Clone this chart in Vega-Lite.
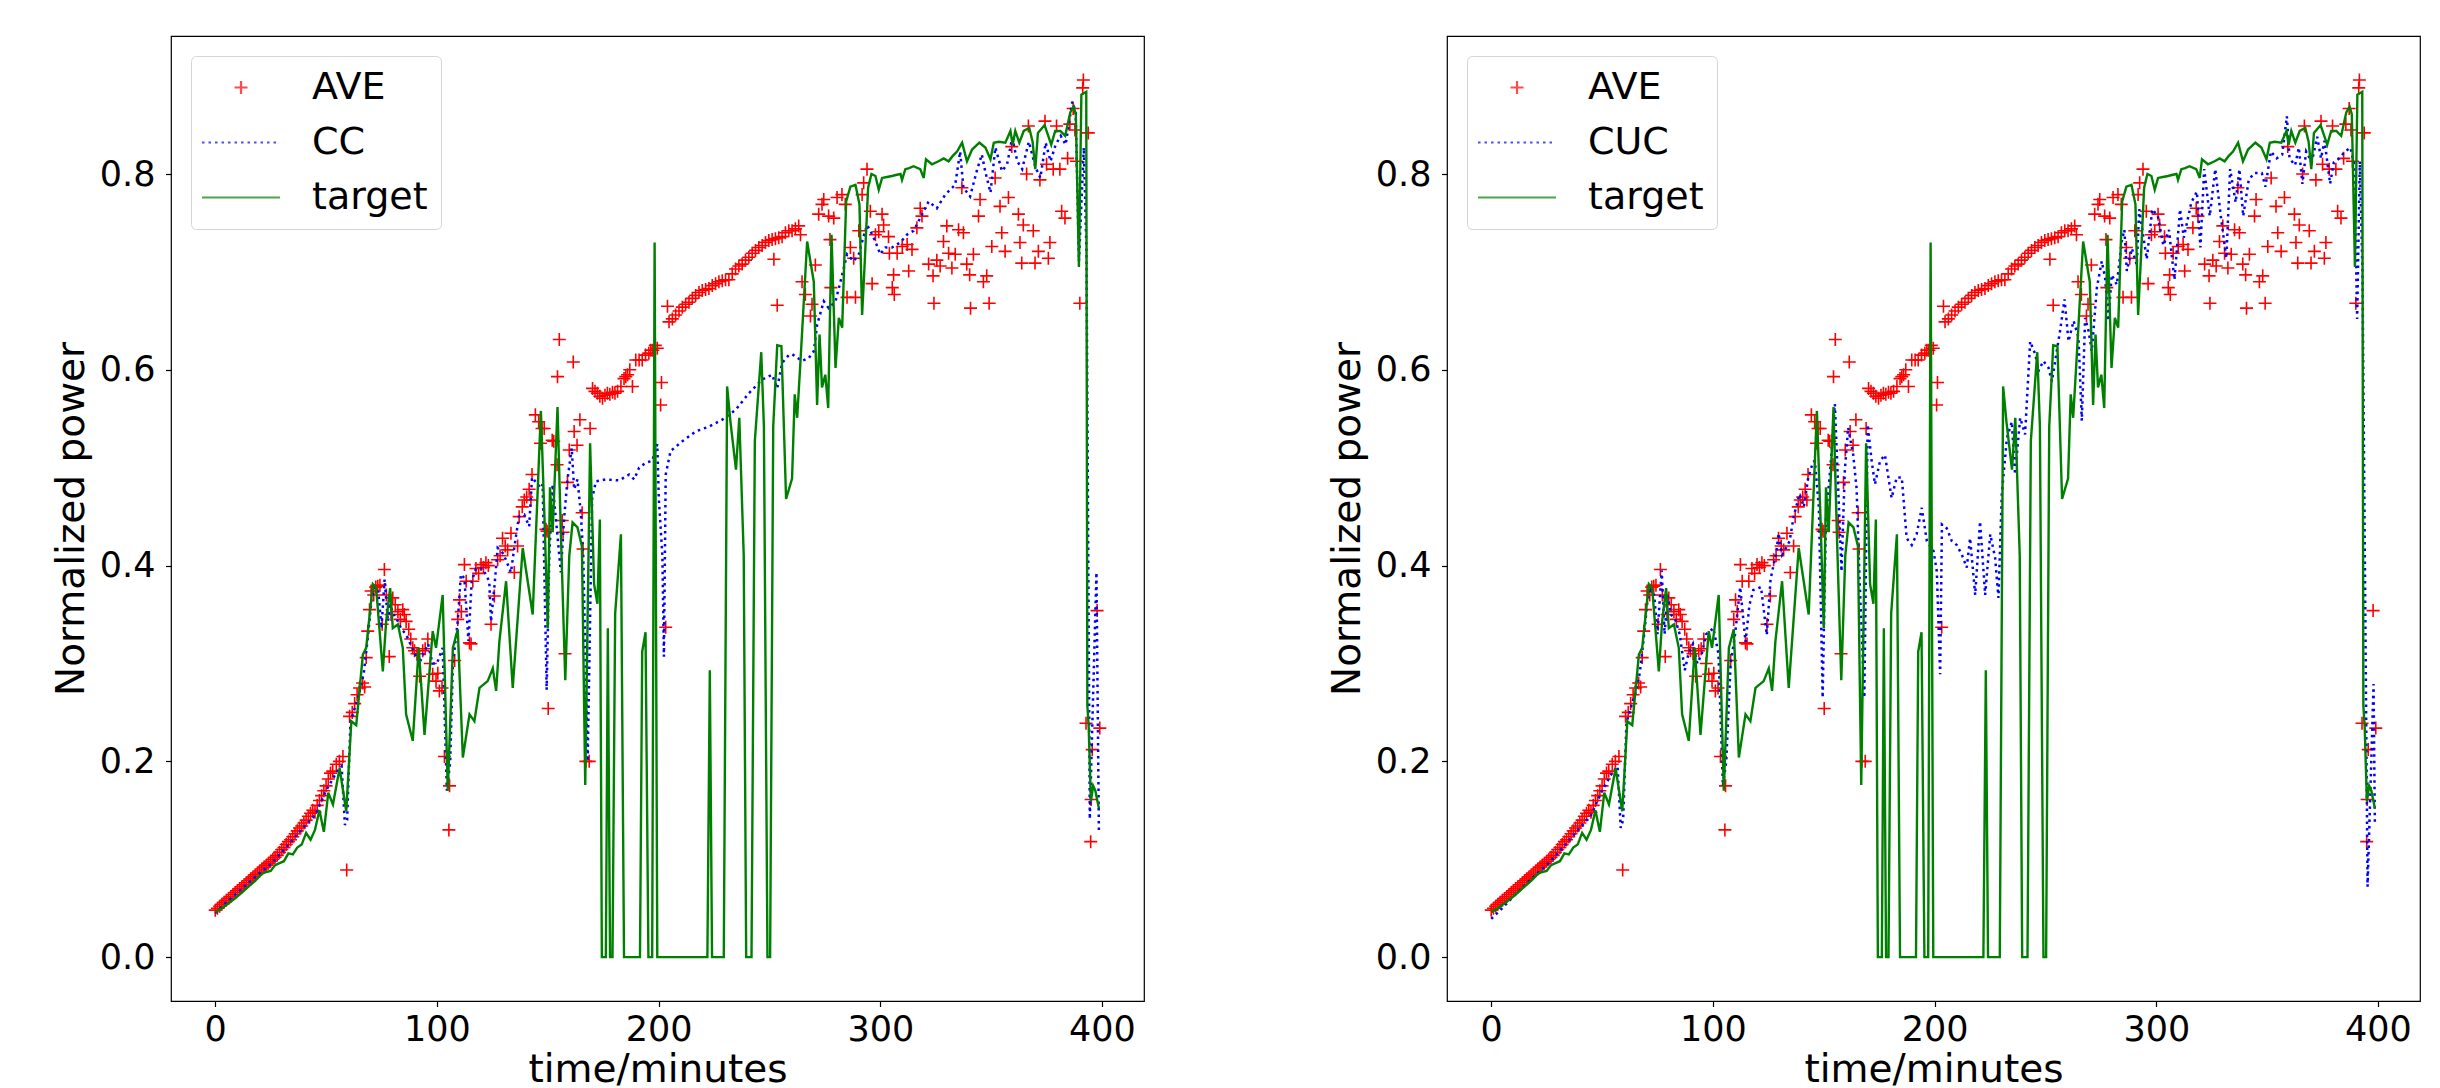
{
"$schema": "https://vega.github.io/schema/vega-lite/v6.json",
"background": "white",
"padding": {"left": 51, "top": 35, "right": 5, "bottom": 5},
"spacing": 182,
"config": {
  "view": {"stroke": "black", "strokeWidth": 1.2},
  "axis": {"labelFont": "DejaVu Sans", "labelFontSize": 35, "labelColor": "black", "titleFont": "DejaVu Sans", "titleFontSize": 39, "titleFontWeight": "normal", "titleColor": "black", "tickColor": "black", "tickSize": 5.5, "tickWidth": 1.2, "domain": false, "grid": false},
  "axisX": {"labelPadding": 6, "titlePadding": 3},
  "axisY": {"labelPadding": 10.5, "titlePadding": 8},
  "legend": {"title": null, "orient": "top-left", "offset": 20, "padding": 12.5, "rowPadding": 17, "labelFont": "DejaVu Sans", "labelFontSize": 38, "labelColor": "black", "labelLimit": 400, "labelOffset": 70.5, "symbolSize": 169, "symbolStrokeWidth": 2.2, "fillColor": "white", "strokeColor": "#d5d5d5", "cornerRadius": 5}
},
"datasets": {
"legend": [],
"ave": [
{"t":0,"v":0.048},{"t":1,"v":0.05},{"t":2,"v":0.052},{"t":3,"v":0.054},{"t":4,"v":0.056},{"t":5,"v":0.058},{"t":6,"v":0.06},{"t":7,"v":0.062},{"t":8,"v":0.064},{"t":9,"v":0.066},{"t":10,"v":0.068},{"t":11,"v":0.07},{"t":12,"v":0.072},{"t":13,"v":0.074},{"t":14,"v":0.076},{"t":15,"v":0.078},{"t":16,"v":0.08},{"t":17,"v":0.082},{"t":18,"v":0.084},{"t":19,"v":0.086},{"t":20,"v":0.088},{"t":21,"v":0.09},{"t":22,"v":0.092},{"t":23,"v":0.094},{"t":24,"v":0.096},{"t":25,"v":0.098},{"t":26,"v":0.1},{"t":27,"v":0.102},{"t":28,"v":0.104},{"t":29,"v":0.107},{"t":30,"v":0.11},{"t":31,"v":0.112},{"t":32,"v":0.115},{"t":33,"v":0.118},{"t":34,"v":0.12},{"t":35,"v":0.123},{"t":36,"v":0.126},{"t":37,"v":0.129},{"t":38,"v":0.132},{"t":39,"v":0.134},{"t":40,"v":0.137},{"t":41,"v":0.14},{"t":42,"v":0.144},{"t":43,"v":0.147},{"t":44,"v":0.15},{"t":45,"v":0.148},{"t":46,"v":0.155},{"t":47,"v":0.16},{"t":48,"v":0.165},{"t":49,"v":0.17},{"t":50,"v":0.175},{"t":51,"v":0.182},{"t":52,"v":0.188},{"t":53,"v":0.19},{"t":54.6,"v":0.197},{"t":56,"v":0.2},{"t":57.6,"v":0.205},{"t":59.3,"v":0.089},{"t":60.6,"v":0.246},{"t":61.8,"v":0.25},{"t":62.9,"v":0.259},{"t":64,"v":0.268},{"t":65.1,"v":0.275},{"t":66.5,"v":0.28},{"t":67.4,"v":0.276},{"t":68.1,"v":0.306},{"t":68.8,"v":0.333},{"t":69.6,"v":0.355},{"t":70.3,"v":0.374},{"t":71.5,"v":0.37},{"t":72.4,"v":0.378},{"t":73.3,"v":0.379},{"t":74.3,"v":0.38},{"t":75.3,"v":0.34},{"t":76.3,"v":0.396},{"t":77.2,"v":0.37},{"t":78.5,"v":0.307},{"t":79.3,"v":0.35},{"t":80.1,"v":0.367},{"t":81.2,"v":0.36},{"t":82.4,"v":0.353},{"t":83.5,"v":0.345},{"t":84.6,"v":0.355},{"t":85.3,"v":0.35},{"t":86.1,"v":0.343},{"t":87.3,"v":0.335},{"t":88.2,"v":0.325},{"t":89.1,"v":0.316},{"t":89.9,"v":0.313},{"t":91,"v":0.31},{"t":92.2,"v":0.287},{"t":93.6,"v":0.313},{"t":94.7,"v":0.315},{"t":95.9,"v":0.325},{"t":97,"v":0.3},{"t":98.1,"v":0.289},{"t":99.6,"v":0.282},{"t":100.4,"v":0.29},{"t":101.1,"v":0.272},{"t":102.3,"v":0.275},{"t":103.4,"v":0.205},{"t":105.4,"v":0.13},{"t":105.7,"v":0.175},{"t":108,"v":0.303},{"t":109.4,"v":0.345},{"t":110.2,"v":0.365},{"t":111,"v":0.353},{"t":112.4,"v":0.401},{"t":113.2,"v":0.384},{"t":114.7,"v":0.321},{"t":115.4,"v":0.32},{"t":116.2,"v":0.384},{"t":117.6,"v":0.397},{"t":118.8,"v":0.392},{"t":119.9,"v":0.401},{"t":121,"v":0.398},{"t":122.1,"v":0.403},{"t":123.2,"v":0.4},{"t":124.4,"v":0.34},{"t":125.9,"v":0.369},{"t":127.4,"v":0.406},{"t":128.5,"v":0.41},{"t":129.6,"v":0.428},{"t":130.8,"v":0.42},{"t":131.9,"v":0.416},{"t":133.4,"v":0.433},{"t":134.9,"v":0.393},{"t":136.4,"v":0.42},{"t":137.1,"v":0.45},{"t":138.5,"v":0.46},{"t":139.4,"v":0.467},{"t":140.5,"v":0.47},{"t":141.6,"v":0.478},{"t":142.4,"v":0.467},{"t":142.9,"v":0.493},{"t":144.4,"v":0.554},{"t":145.9,"v":0.547},{"t":146.7,"v":0.525},{"t":147.4,"v":0.54},{"t":148.4,"v":0.54},{"t":149.2,"v":0.437},{"t":149.7,"v":0.435},{"t":150.2,"v":0.254},{"t":152,"v":0.528},{"t":152.7,"v":0.527},{"t":154.2,"v":0.503},{"t":154.4,"v":0.593},{"t":155.2,"v":0.631},{"t":156.5,"v":0.446},{"t":156.9,"v":0.434},{"t":157.8,"v":0.31},{"t":158.9,"v":0.485},{"t":159.7,"v":0.518},{"t":161.5,"v":0.608},{"t":161.9,"v":0.537},{"t":163.2,"v":0.523},{"t":164.5,"v":0.549},{"t":165.5,"v":0.454},{"t":165.9,"v":0.417},{"t":167.2,"v":0.2},{"t":168.7,"v":0.2},{"t":169.1,"v":0.54},{"t":170.2,"v":0.581},{"t":171.3,"v":0.578},{"t":172.4,"v":0.576},{"t":173.5,"v":0.573},{"t":174.7,"v":0.571},{"t":175.8,"v":0.574},{"t":176.9,"v":0.576},{"t":178,"v":0.575},{"t":179.2,"v":0.577},{"t":180.3,"v":0.576},{"t":181.5,"v":0.578},{"t":183,"v":0.583},{"t":184.4,"v":0.591},{"t":185.2,"v":0.593},{"t":186,"v":0.595},{"t":187,"v":0.6},{"t":188.2,"v":0.583},{"t":189.7,"v":0.61},{"t":191.2,"v":0.61},{"t":192.6,"v":0.61},{"t":194.1,"v":0.615},{"t":195.6,"v":0.617},{"t":196.5,"v":0.62},{"t":197.4,"v":0.62},{"t":198.5,"v":0.625},{"t":199.4,"v":0.622},{"t":200.9,"v":0.564},{"t":201.3,"v":0.587},{"t":203.2,"v":0.337},{"t":204,"v":0.665},{"t":204.7,"v":0.649},{"t":206.2,"v":0.652},{"t":207.7,"v":0.656},{"t":209.2,"v":0.66},{"t":210.7,"v":0.664},{"t":212.2,"v":0.667},{"t":213.7,"v":0.669},{"t":215.2,"v":0.673},{"t":216.7,"v":0.676},{"t":218.2,"v":0.679},{"t":219.7,"v":0.681},{"t":221.2,"v":0.682},{"t":222.7,"v":0.683},{"t":224.2,"v":0.686},{"t":225.7,"v":0.688},{"t":227.2,"v":0.69},{"t":228.7,"v":0.691},{"t":230.2,"v":0.692},{"t":231.7,"v":0.692},{"t":233.2,"v":0.698},{"t":234.7,"v":0.703},{"t":236.2,"v":0.706},{"t":237.7,"v":0.708},{"t":239.2,"v":0.712},{"t":240.7,"v":0.715},{"t":242.2,"v":0.719},{"t":243.7,"v":0.722},{"t":245.2,"v":0.725},{"t":246.7,"v":0.727},{"t":248.2,"v":0.73},{"t":249.7,"v":0.732},{"t":251.2,"v":0.733},{"t":252,"v":0.713},{"t":252.7,"v":0.734},{"t":253.5,"v":0.666},{"t":254.2,"v":0.735},{"t":255.7,"v":0.736},{"t":257.2,"v":0.74},{"t":258.7,"v":0.742},{"t":260.2,"v":0.742},{"t":261.7,"v":0.744},{"t":263.2,"v":0.747},{"t":264,"v":0.738},{"t":264.7,"v":0.69},{"t":266.2,"v":0.677},{"t":268.5,"v":0.655},{"t":269.2,"v":0.667},{"t":270.7,"v":0.707},{"t":272.2,"v":0.759},{"t":273.7,"v":0.769},{"t":274.5,"v":0.774},{"t":276.7,"v":0.757},{"t":277.3,"v":0.733},{"t":277.7,"v":0.684},{"t":279,"v":0.755},{"t":280.5,"v":0.776},{"t":282.7,"v":0.779},{"t":284.2,"v":0.769},{"t":285,"v":0.674},{"t":286.5,"v":0.725},{"t":288,"v":0.714},{"t":288.8,"v":0.674},{"t":290.3,"v":0.742},{"t":291.8,"v":0.779},{"t":292.5,"v":0.791},{"t":294,"v":0.805},{"t":295.5,"v":0.762},{"t":296.3,"v":0.688},{"t":297.8,"v":0.738},{"t":299.3,"v":0.741},{"t":300.8,"v":0.759},{"t":301.5,"v":0.748},{"t":303.7,"v":0.736},{"t":304.1,"v":0.719},{"t":305.4,"v":0.684},{"t":306,"v":0.697},{"t":306.3,"v":0.677},{"t":307.6,"v":0.719},{"t":309.9,"v":0.726},{"t":312.1,"v":0.728},{"t":312.8,"v":0.701},{"t":314.3,"v":0.723},{"t":316.5,"v":0.745},{"t":318,"v":0.765},{"t":318.8,"v":0.757},{"t":321.8,"v":0.708},{"t":323.8,"v":0.696},{"t":324.2,"v":0.668},{"t":325.5,"v":0.712},{"t":327,"v":0.706},{"t":328.5,"v":0.731},{"t":330,"v":0.747},{"t":330.8,"v":0.719},{"t":332.3,"v":0.704},{"t":333.8,"v":0.718},{"t":335.3,"v":0.743},{"t":336.8,"v":0.786},{"t":337.5,"v":0.74},{"t":339,"v":0.708},{"t":340.3,"v":0.697},{"t":340.7,"v":0.663},{"t":342,"v":0.718},{"t":344.3,"v":0.757},{"t":345,"v":0.774},{"t":346.5,"v":0.69},{"t":348,"v":0.696},{"t":349.1,"v":0.668},{"t":350.3,"v":0.726},{"t":351.8,"v":0.796},{"t":354,"v":0.767},{"t":354.8,"v":0.74},{"t":356.3,"v":0.721},{"t":357.8,"v":0.776},{"t":359.3,"v":0.828},{"t":362.3,"v":0.759},{"t":363,"v":0.73},{"t":363.8,"v":0.709},{"t":364.5,"v":0.748},{"t":366,"v":0.8},{"t":366.8,"v":0.849},{"t":369,"v":0.742},{"t":369.8,"v":0.709},{"t":371.3,"v":0.721},{"t":372,"v":0.794},{"t":374.3,"v":0.854},{"t":375,"v":0.81},{"t":375.8,"v":0.714},{"t":376.5,"v":0.73},{"t":378,"v":0.805},{"t":379.5,"v":0.849},{"t":381,"v":0.805},{"t":381.8,"v":0.762},{"t":383.3,"v":0.755},{"t":384.5,"v":0.816},{"t":385.5,"v":0.851},{"t":387,"v":0.867},{"t":387.8,"v":0.845},{"t":388.5,"v":0.813},{"t":390,"v":0.668},{"t":391.3,"v":0.888},{"t":391.6,"v":0.896},{"t":392.8,"v":0.239},{"t":393.8,"v":0.842},{"t":394.9,"v":0.118},{"t":395.1,"v":0.161},{"t":395.6,"v":0.212},{"t":397.8,"v":0.354},{"t":399,"v":0.234}
],
"target": [
{"t":0,"v":0.046},{"t":3,"v":0.05},{"t":6,"v":0.055},{"t":9,"v":0.06},{"t":12,"v":0.066},{"t":15,"v":0.072},{"t":18,"v":0.078},{"t":21,"v":0.085},{"t":23,"v":0.087},{"t":25,"v":0.088},{"t":27,"v":0.094},{"t":29,"v":0.096},{"t":31,"v":0.098},{"t":33,"v":0.106},{"t":35,"v":0.105},{"t":37,"v":0.112},{"t":39,"v":0.115},{"t":41,"v":0.127},{"t":43,"v":0.12},{"t":45,"v":0.13},{"t":47,"v":0.15},{"t":49,"v":0.128},{"t":51,"v":0.168},{"t":53.1,"v":0.156},{"t":56.1,"v":0.193},{"t":59.1,"v":0.149},{"t":61.4,"v":0.241},{"t":63.6,"v":0.237},{"t":66.6,"v":0.309},{"t":68.1,"v":0.316},{"t":71.1,"v":0.381},{"t":72.6,"v":0.377},{"t":75.6,"v":0.292},{"t":77.1,"v":0.343},{"t":78.9,"v":0.377},{"t":80.1,"v":0.336},{"t":82.4,"v":0.34},{"t":84.6,"v":0.316},{"t":86.1,"v":0.248},{"t":89.1,"v":0.221},{"t":91.8,"v":0.316},{"t":94.4,"v":0.227},{"t":98.1,"v":0.333},{"t":99.6,"v":0.316},{"t":102.6,"v":0.37},{"t":104.9,"v":0.17},{"t":107.2,"v":0.316},{"t":109.4,"v":0.335},{"t":111.7,"v":0.204},{"t":114.7,"v":0.248},{"t":116.9,"v":0.241},{"t":119.2,"v":0.275},{"t":122.9,"v":0.282},{"t":125.2,"v":0.295},{"t":126.7,"v":0.272},{"t":128.2,"v":0.323},{"t":131.2,"v":0.384},{"t":134.2,"v":0.275},{"t":138.7,"v":0.418},{"t":143.2,"v":0.35},{"t":146.9,"v":0.558},{"t":148.5,"v":0.45},{"t":150,"v":0.336},{"t":151,"v":0.48},{"t":152.2,"v":0.434},{"t":154.4,"v":0.562},{"t":155.9,"v":0.434},{"t":157.9,"v":0.283},{"t":159.7,"v":0.41},{"t":161.2,"v":0.444},{"t":163.4,"v":0.439},{"t":165.4,"v":0.42},{"t":166.9,"v":0.176},{"t":169.1,"v":0.525},{"t":170.9,"v":0.381},{"t":172.4,"v":0.361},{"t":173.5,"v":0.447},{"t":174.4,"v":0},{"t":176.2,"v":0},{"t":177.1,"v":0.336},{"t":178.1,"v":0},{"t":179.2,"v":0},{"t":180.4,"v":0.351},{"t":183,"v":0.432},{"t":184.4,"v":0},{"t":191.6,"v":0},{"t":192.6,"v":0.312},{"t":194.1,"v":0.332},{"t":195.4,"v":0},{"t":197.1,"v":0},{"t":198.2,"v":0.73},{"t":199.4,"v":0},{"t":222,"v":0},{"t":223.1,"v":0.293},{"t":224.1,"v":0},{"t":229.4,"v":0},{"t":230.9,"v":0.583},{"t":232.4,"v":0.547},{"t":234.9,"v":0.498},{"t":236.4,"v":0.551},{"t":238.4,"v":0.41},{"t":239.5,"v":0},{"t":241.9,"v":0},{"t":243.4,"v":0.527},{"t":246.3,"v":0.618},{"t":247.5,"v":0.542},{"t":249.1,"v":0},{"t":250.3,"v":0},{"t":251.7,"v":0.542},{"t":253.5,"v":0.625},{"t":255.4,"v":0.624},{"t":257.5,"v":0.468},{"t":260.2,"v":0.489},{"t":261.4,"v":0.575},{"t":262.5,"v":0.551},{"t":264,"v":0.609},{"t":267,"v":0.731},{"t":270,"v":0.69},{"t":271.5,"v":0.564},{"t":272.6,"v":0.636},{"t":273.7,"v":0.582},{"t":275.2,"v":0.595},{"t":276.5,"v":0.561},{"t":278,"v":0.738},{"t":279.8,"v":0.602},{"t":281.3,"v":0.653},{"t":282.8,"v":0.643},{"t":284.6,"v":0.772},{"t":286.5,"v":0.787},{"t":288.8,"v":0.789},{"t":290.6,"v":0.769},{"t":291.8,"v":0.656},{"t":293,"v":0.711},{"t":294.5,"v":0.786},{"t":296,"v":0.8},{"t":297.8,"v":0.798},{"t":299.3,"v":0.784},{"t":300.8,"v":0.796},{"t":303,"v":0.797},{"t":305.3,"v":0.798},{"t":307,"v":0.799},{"t":309.1,"v":0.8},{"t":309.8,"v":0.794},{"t":311.3,"v":0.805},{"t":313,"v":0.806},{"t":315,"v":0.808},{"t":318,"v":0.805},{"t":319.6,"v":0.796},{"t":320.6,"v":0.815},{"t":323.3,"v":0.81},{"t":326.3,"v":0.813},{"t":328.6,"v":0.816},{"t":330.8,"v":0.813},{"t":332.5,"v":0.818},{"t":334.6,"v":0.823},{"t":336.9,"v":0.832},{"t":339.1,"v":0.813},{"t":341.4,"v":0.825},{"t":344.7,"v":0.832},{"t":347.4,"v":0.827},{"t":349.7,"v":0.815},{"t":351.2,"v":0.832},{"t":353.4,"v":0.833},{"t":356.4,"v":0.832},{"t":358.7,"v":0.844},{"t":359.7,"v":0.83},{"t":360.9,"v":0.844},{"t":362.7,"v":0.832},{"t":364.7,"v":0.844},{"t":367.2,"v":0.847},{"t":368.7,"v":0.833},{"t":369.9,"v":0.805},{"t":371.1,"v":0.842},{"t":374.1,"v":0.85},{"t":375.6,"v":0.84},{"t":377.1,"v":0.83},{"t":378.9,"v":0.844},{"t":381.2,"v":0.844},{"t":383.4,"v":0.839},{"t":385.7,"v":0.863},{"t":387.2,"v":0.869},{"t":388.2,"v":0.861},{"t":389.6,"v":0.705},{"t":390.7,"v":0.881},{"t":392.9,"v":0.884},{"t":393.4,"v":0.257},{"t":394,"v":0.235},{"t":395,"v":0.159},{"t":396,"v":0.175},{"t":397,"v":0.17},{"t":398.6,"v":0.152}
],
"cc": [
{"t":0,"v":0.045},{"t":5,"v":0.056},{"t":10,"v":0.066},{"t":15,"v":0.076},{"t":20,"v":0.086},{"t":25,"v":0.095},{"t":30,"v":0.107},{"t":35,"v":0.12},{"t":40,"v":0.133},{"t":45,"v":0.145},{"t":50,"v":0.17},{"t":55,"v":0.19},{"t":57,"v":0.195},{"t":58.5,"v":0.135},{"t":59.5,"v":0.14},{"t":61,"v":0.24},{"t":63,"v":0.255},{"t":65,"v":0.27},{"t":67,"v":0.29},{"t":69,"v":0.33},{"t":70.5,"v":0.365},{"t":72,"v":0.378},{"t":73.5,"v":0.375},{"t":75,"v":0.336},{"t":76.4,"v":0.386},{"t":77.9,"v":0.343},{"t":79,"v":0.36},{"t":80.5,"v":0.35},{"t":82,"v":0.345},{"t":84,"v":0.335},{"t":86,"v":0.33},{"t":88,"v":0.32},{"t":90,"v":0.31},{"t":92,"v":0.3},{"t":94,"v":0.31},{"t":96,"v":0.32},{"t":98,"v":0.3},{"t":100,"v":0.3},{"t":102.6,"v":0.316},{"t":104.5,"v":0.17},{"t":106,"v":0.2},{"t":107.2,"v":0.3},{"t":109.4,"v":0.343},{"t":110.8,"v":0.391},{"t":112.4,"v":0.387},{"t":114.2,"v":0.323},{"t":115.7,"v":0.384},{"t":117.6,"v":0.397},{"t":120.6,"v":0.397},{"t":123.6,"v":0.384},{"t":124.4,"v":0.343},{"t":126,"v":0.38},{"t":127.4,"v":0.418},{"t":130,"v":0.412},{"t":133.4,"v":0.393},{"t":135,"v":0.42},{"t":137,"v":0.45},{"t":139.4,"v":0.452},{"t":141.6,"v":0.44},{"t":142.9,"v":0.49},{"t":146.9,"v":0.479},{"t":147.7,"v":0.483},{"t":149.5,"v":0.273},{"t":150.7,"v":0.41},{"t":152.2,"v":0.483},{"t":154.4,"v":0.43},{"t":155.9,"v":0.393},{"t":157.4,"v":0.449},{"t":158.9,"v":0.488},{"t":160.8,"v":0.52},{"t":161.9,"v":0.478},{"t":163.4,"v":0.488},{"t":164.9,"v":0.454},{"t":166,"v":0.41},{"t":168,"v":0.2},{"t":170,"v":0.468},{"t":171.7,"v":0.486},{"t":176.2,"v":0.488},{"t":182.2,"v":0.487},{"t":186.7,"v":0.493},{"t":189,"v":0.488},{"t":191.2,"v":0.5},{"t":194.1,"v":0.505},{"t":197.1,"v":0.507},{"t":199.4,"v":0.524},{"t":200.1,"v":0.468},{"t":201.7,"v":0.41},{"t":202.4,"v":0.307},{"t":203.2,"v":0.493},{"t":205.4,"v":0.517},{"t":210.7,"v":0.527},{"t":216.7,"v":0.537},{"t":222.7,"v":0.542},{"t":228.7,"v":0.549},{"t":234.7,"v":0.559},{"t":240.7,"v":0.576},{"t":246.7,"v":0.59},{"t":251.2,"v":0.595},{"t":253.5,"v":0.581},{"t":255.7,"v":0.607},{"t":258.7,"v":0.615},{"t":260.2,"v":0.616},{"t":264.7,"v":0.609},{"t":267.7,"v":0.612},{"t":270,"v":0.619},{"t":271.5,"v":0.646},{"t":274.5,"v":0.67},{"t":276.7,"v":0.663},{"t":279.8,"v":0.67},{"t":282.8,"v":0.697},{"t":285,"v":0.718},{"t":288,"v":0.711},{"t":290.3,"v":0.718},{"t":291.8,"v":0.731},{"t":294,"v":0.748},{"t":295.5,"v":0.742},{"t":297.8,"v":0.731},{"t":300,"v":0.718},{"t":302.3,"v":0.725},{"t":305.3,"v":0.725},{"t":309,"v":0.73},{"t":312,"v":0.738},{"t":315,"v":0.742},{"t":318,"v":0.755},{"t":321.8,"v":0.772},{"t":325.5,"v":0.765},{"t":329.3,"v":0.779},{"t":333.8,"v":0.789},{"t":336,"v":0.823},{"t":336.8,"v":0.803},{"t":337.5,"v":0.786},{"t":340.5,"v":0.777},{"t":343.5,"v":0.803},{"t":345.8,"v":0.82},{"t":347.3,"v":0.803},{"t":349.7,"v":0.781},{"t":351.9,"v":0.827},{"t":354.9,"v":0.803},{"t":357.2,"v":0.81},{"t":359.5,"v":0.837},{"t":361.8,"v":0.813},{"t":364,"v":0.805},{"t":367,"v":0.833},{"t":370,"v":0.807},{"t":372.2,"v":0.796},{"t":374.6,"v":0.832},{"t":376.8,"v":0.813},{"t":379.1,"v":0.83},{"t":381.4,"v":0.839},{"t":383.6,"v":0.83},{"t":386.6,"v":0.874},{"t":388.1,"v":0.864},{"t":389.6,"v":0.711},{"t":391.8,"v":0.827},{"t":393,"v":0.72},{"t":394.5,"v":0.141},{"t":397.5,"v":0.393},{"t":398.6,"v":0.13}
],
"cuc": [
{"t":0,"v":0.039},{"t":5,"v":0.05},{"t":10,"v":0.062},{"t":15,"v":0.073},{"t":20,"v":0.084},{"t":25,"v":0.094},{"t":30,"v":0.106},{"t":35,"v":0.119},{"t":40,"v":0.132},{"t":45,"v":0.145},{"t":50,"v":0.17},{"t":55,"v":0.19},{"t":57,"v":0.195},{"t":58.4,"v":0.132},{"t":59.5,"v":0.14},{"t":61,"v":0.24},{"t":63,"v":0.255},{"t":65,"v":0.27},{"t":67,"v":0.29},{"t":69,"v":0.33},{"t":70.5,"v":0.365},{"t":72,"v":0.375},{"t":73.5,"v":0.37},{"t":75,"v":0.33},{"t":76.9,"v":0.395},{"t":78.2,"v":0.33},{"t":79.5,"v":0.37},{"t":81,"v":0.35},{"t":83,"v":0.345},{"t":85,"v":0.33},{"t":87.3,"v":0.293},{"t":89,"v":0.31},{"t":91,"v":0.32},{"t":93,"v":0.3},{"t":95,"v":0.31},{"t":97,"v":0.33},{"t":100.2,"v":0.336},{"t":102.5,"v":0.31},{"t":104.5,"v":0.175},{"t":106,"v":0.2},{"t":108,"v":0.3},{"t":110,"v":0.33},{"t":112.3,"v":0.378},{"t":114.7,"v":0.322},{"t":116.5,"v":0.36},{"t":118.2,"v":0.375},{"t":121.7,"v":0.378},{"t":124.3,"v":0.329},{"t":126,"v":0.386},{"t":128.6,"v":0.414},{"t":129.6,"v":0.433},{"t":131.2,"v":0.411},{"t":134.6,"v":0.425},{"t":136.5,"v":0.451},{"t":139.1,"v":0.473},{"t":141,"v":0.46},{"t":143,"v":0.49},{"t":145.2,"v":0.506},{"t":146,"v":0.507},{"t":147.8,"v":0.459},{"t":149.5,"v":0.265},{"t":151,"v":0.45},{"t":153,"v":0.5},{"t":155,"v":0.565},{"t":156.5,"v":0.48},{"t":158,"v":0.394},{"t":159.5,"v":0.497},{"t":161,"v":0.541},{"t":163.3,"v":0.513},{"t":164.8,"v":0.479},{"t":166.3,"v":0.377},{"t":168.3,"v":0.265},{"t":169.8,"v":0.544},{"t":171.6,"v":0.507},{"t":173.1,"v":0.483},{"t":175.4,"v":0.507},{"t":177.6,"v":0.513},{"t":180.6,"v":0.469},{"t":182.9,"v":0.49},{"t":185.2,"v":0.49},{"t":187.4,"v":0.428},{"t":189.7,"v":0.421},{"t":191.9,"v":0.432},{"t":194.2,"v":0.459},{"t":196.5,"v":0.425},{"t":199.5,"v":0.415},{"t":201,"v":0.394},{"t":202.5,"v":0.289},{"t":203.3,"v":0.442},{"t":205.5,"v":0.438},{"t":207.8,"v":0.425},{"t":210,"v":0.421},{"t":212.3,"v":0.411},{"t":214.5,"v":0.398},{"t":216,"v":0.428},{"t":218.3,"v":0.37},{"t":220.5,"v":0.445},{"t":222.8,"v":0.37},{"t":225.1,"v":0.432},{"t":227.3,"v":0.408},{"t":228.8,"v":0.367},{"t":230.3,"v":0.473},{"t":232.6,"v":0.53},{"t":234.8,"v":0.547},{"t":236.3,"v":0.493},{"t":238.6,"v":0.551},{"t":240.8,"v":0.534},{"t":243.1,"v":0.629},{"t":245.4,"v":0.616},{"t":246.9,"v":0.599},{"t":249.1,"v":0.609},{"t":251.4,"v":0.602},{"t":252.9,"v":0.588},{"t":255.1,"v":0.619},{"t":256.6,"v":0.64},{"t":258.6,"v":0.672},{"t":260.4,"v":0.629},{"t":262.7,"v":0.65},{"t":264.9,"v":0.633},{"t":266.4,"v":0.548},{"t":267.9,"v":0.653},{"t":269.4,"v":0.64},{"t":270.9,"v":0.619},{"t":273.2,"v":0.684},{"t":275.4,"v":0.711},{"t":276.9,"v":0.694},{"t":278.4,"v":0.65},{"t":279.9,"v":0.697},{"t":282.2,"v":0.687},{"t":284.4,"v":0.731},{"t":285.6,"v":0.743},{"t":286.7,"v":0.701},{"t":289,"v":0.724},{"t":291.2,"v":0.707},{"t":292.3,"v":0.764},{"t":295.7,"v":0.713},{"t":298.2,"v":0.764},{"t":300.7,"v":0.757},{"t":303.2,"v":0.727},{"t":305.7,"v":0.743},{"t":308.2,"v":0.692},{"t":310.7,"v":0.764},{"t":312.4,"v":0.735},{"t":315.8,"v":0.771},{"t":318.3,"v":0.782},{"t":319.9,"v":0.725},{"t":321.6,"v":0.805},{"t":324.1,"v":0.757},{"t":326.6,"v":0.805},{"t":329.1,"v":0.757},{"t":331.6,"v":0.714},{"t":333.3,"v":0.805},{"t":335.8,"v":0.771},{"t":337.5,"v":0.805},{"t":339.2,"v":0.757},{"t":341.7,"v":0.794},{"t":344.2,"v":0.801},{"t":347.6,"v":0.801},{"t":349.2,"v":0.787},{"t":351.7,"v":0.823},{"t":354.3,"v":0.816},{"t":356.8,"v":0.82},{"t":358.9,"v":0.859},{"t":360.1,"v":0.816},{"t":362.6,"v":0.809},{"t":364.3,"v":0.827},{"t":365.9,"v":0.79},{"t":367.6,"v":0.823},{"t":370.1,"v":0.812},{"t":372.6,"v":0.838},{"t":374.3,"v":0.816},{"t":375.9,"v":0.834},{"t":378.4,"v":0.79},{"t":380.1,"v":0.812},{"t":382.6,"v":0.816},{"t":385.1,"v":0.823},{"t":387.6,"v":0.827},{"t":389.3,"v":0.809},{"t":390.6,"v":0.652},{"t":391.8,"v":0.813},{"t":393,"v":0.7},{"t":395.3,"v":0.072},{"t":398,"v":0.279},{"t":398.6,"v":0.136}
]
},
"hconcat": [
{
 "width": 973, "height": 965,
 "encoding": {
  "x": {"field": "t", "type": "quantitative", "scale": {"domain": [-19.95, 418.95], "nice": false, "zero": false}, "axis": {"values": [0,100,200,300,400], "title": "time/minutes"}},
  "y": {"field": "v", "type": "quantitative", "scale": {"domain": [-0.0448, 0.941], "nice": false, "zero": false}, "axis": {"values": [0,0.2,0.4,0.6,0.8], "format": ".1f", "title": "Normalized power"}}
 },
 "layer": [
  {"data": {"name": "legend"}, "mark": {"type": "point", "filled": false},
   "encoding": {
     "color": {"field": "series", "type": "nominal", "scale": {"domain": ["AVE","CC","target"], "range": ["#ff0000","#0000ff","#008000"]}, "legend": {"title": null}},
     "shape": {"field": "series", "type": "nominal", "scale": {"domain": ["AVE","CC","target"], "range": ["M1.85,0H3.85M2.85,-1V1", "M-3.15,0H8.85", "M-3.15,0H8.85"]}, "legend": {"title": null}},
     "strokeDash": {"field": "series", "type": "nominal", "scale": {"domain": ["AVE","CC","target"], "range": [[1,0],[2.5,4],[1,0]]}, "legend": {"title": null}}}},
  {"data": {"name": "ave"}, "mark": {"type": "point", "shape": "M-1,0H1M0,-1V1", "filled": false, "size": 169, "strokeWidth": 1.6, "opacity": 1},
   "encoding": {"color": {"datum": "AVE", "type": "nominal", "legend": null}}},
  {"data": {"name": "cc"}, "mark": {"type": "line", "strokeWidth": 2.5, "strokeDash": [2.5, 4]},
   "encoding": {"color": {"datum": "CC", "type": "nominal", "legend": null}}},
  {"data": {"name": "target"}, "mark": {"type": "line", "strokeWidth": 2.4},
   "encoding": {"color": {"datum": "target", "type": "nominal", "legend": null}}}
 ]
},
{
 "width": 973, "height": 965,
 "encoding": {
  "x": {"field": "t", "type": "quantitative", "scale": {"domain": [-19.95, 418.95], "nice": false, "zero": false}, "axis": {"values": [0,100,200,300,400], "title": "time/minutes"}},
  "y": {"field": "v", "type": "quantitative", "scale": {"domain": [-0.0448, 0.941], "nice": false, "zero": false}, "axis": {"values": [0,0.2,0.4,0.6,0.8], "format": ".1f", "title": "Normalized power"}}
 },
 "layer": [
  {"data": {"name": "legend"}, "mark": {"type": "point", "filled": false},
   "encoding": {
     "color": {"field": "series", "type": "nominal", "scale": {"domain": ["AVE","CUC","target"], "range": ["#ff0000","#0000ff","#008000"]}, "legend": {"title": null}},
     "shape": {"field": "series", "type": "nominal", "scale": {"domain": ["AVE","CUC","target"], "range": ["M1.85,0H3.85M2.85,-1V1", "M-3.15,0H8.85", "M-3.15,0H8.85"]}, "legend": {"title": null}},
     "strokeDash": {"field": "series", "type": "nominal", "scale": {"domain": ["AVE","CUC","target"], "range": [[1,0],[2.5,4],[1,0]]}, "legend": {"title": null}}}},
  {"data": {"name": "ave"}, "mark": {"type": "point", "shape": "M-1,0H1M0,-1V1", "filled": false, "size": 169, "strokeWidth": 1.6, "opacity": 1},
   "encoding": {"color": {"datum": "AVE", "type": "nominal", "legend": null}}},
  {"data": {"name": "cuc"}, "mark": {"type": "line", "strokeWidth": 2.5, "strokeDash": [2.5, 4]},
   "encoding": {"color": {"datum": "CUC", "type": "nominal", "legend": null}}},
  {"data": {"name": "target"}, "mark": {"type": "line", "strokeWidth": 2.4},
   "encoding": {"color": {"datum": "target", "type": "nominal", "legend": null}}}
 ]
}
],
"resolve": {"scale": {"color": "independent", "shape": "independent", "strokeDash": "independent"}, "legend": {"color": "independent", "shape": "independent", "strokeDash": "independent"}}
}
